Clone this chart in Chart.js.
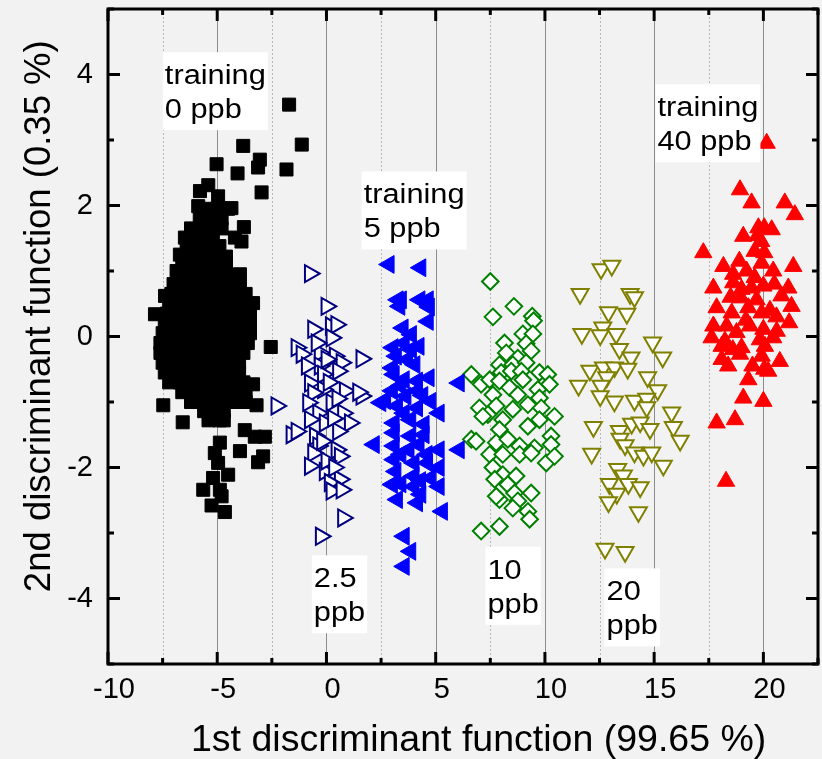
<!DOCTYPE html>
<html>
<head>
<meta charset="utf-8">
<script src="https://cdn.jsdelivr.net/npm/chart.js@4.4.1/dist/chart.umd.min.js"></script>
<style>
html,body{margin:0;padding:0;background:#f2f2f2;}
canvas{display:block;}
</style>
</head>
<body>
<canvas id="c" width="822" height="759"></canvas>
<script>
// ---- axes / ticks ----
const xTicks = [-10, -5, 0, 5, 10, 15, 20];
const xMinorTicks = [-7.5, -2.5, 2.5, 7.5, 12.5, 17.5, 22.5];
const yTicks = [-4, -2, 0, 2, 4];
const yMinorTicks = [-5, -3, -1, 1, 3, 5];
const xTitle = '1st discriminant function (99.65 %)';
const yTitle = '2nd discriminant function (0.35 %)';

// ---- annotation labels ----
const annotX = [-7.49, 1.61, 15.06, -0.67, 7.28, 12.73];
const annotY = [4.34, 2.52, 3.85, -3.34, -3.21, -3.54];
const annotLine1 = ['training', 'training', 'training', '2.5', '10', '20'];
const annotLine2 = ['0 ppb', '5 ppb', '40 ppb', 'ppb', 'ppb', 'ppb'];

// ---- series: training 0 ppb (black squares) ----
const ppb0 = [
[-1.71,3.54],[-1.13,2.93],[-3.81,2.91],[-3.05,2.70],[-3.13,2.58],[-4.07,2.49],[-1.83,2.55],[-5.03,2.63],
[-2.97,2.20],[-5.41,2.31],[-5.79,2.22],[-4.96,2.14],[-5.87,1.99],[-4.35,1.96],[-3.78,1.67],[-4.19,1.51],
[-3.89,1.45],[-6.48,1.51],[-6.71,1.25],[-6.86,1.00],[-3.96,0.95],[-3.96,0.77],[-3.36,0.51],[-7.39,0.62],
[-7.85,0.34],[-2.55,-0.16],[-3.36,-0.73],[-7.47,-1.05],[-6.58,-1.31],[-3.20,-1.05],[-3.74,-1.43],[-2.82,-1.53],
[-3.28,-1.53],[-3.96,-1.75],[-2.90,-1.83],[-3.13,-1.92],[-4.88,-1.62],[-5.11,-1.78],[-4.96,-1.93],[-4.50,-2.11],
[-5.19,-2.16],[-5.64,-2.34],[-4.88,-2.34],[-4.80,-2.44],[-5.26,-2.58],[-4.65,-2.68],
[-5.5,1.95],[-5.0,1.95],[-4.5,1.95],
[-5.8,1.80],[-5.3,1.80],[-4.8,1.80],
[-6.2,1.65],[-5.7,1.65],[-5.2,1.65],[-4.8,1.65],
[-6.2,1.50],[-5.7,1.50],[-5.2,1.50],
[-6.4,1.38],[-5.9,1.38],[-5.4,1.38],[-4.9,1.38],
[-6.5,1.22],[-6.0,1.22],[-5.5,1.22],[-5.0,1.22],[-4.6,1.22],
[-6.6,1.08],[-6.1,1.08],[-5.6,1.08],[-5.1,1.08],[-4.6,1.08],
[-6.8,0.94],[-6.3,0.94],[-5.8,0.94],[-5.3,0.94],[-4.8,0.94],[-4.4,0.94],
[-7.0,0.80],[-6.5,0.80],[-6.0,0.80],[-5.5,0.80],[-5.0,0.80],[-4.5,0.80],[-4.1,0.80],
[-7.1,0.65],[-6.6,0.65],[-6.1,0.65],[-5.6,0.65],[-5.1,0.65],[-4.6,0.65],[-4.1,0.65],[-3.7,0.65],
[-7.2,0.50],[-6.7,0.50],[-6.2,0.50],[-5.7,0.50],[-5.2,0.50],[-4.7,0.50],[-4.2,0.50],[-3.7,0.50],
[-7.3,0.35],[-6.8,0.35],[-6.3,0.35],[-5.8,0.35],[-5.3,0.35],[-4.8,0.35],[-4.3,0.35],[-3.8,0.35],[-3.5,0.35],
[-7.4,0.20],[-6.9,0.20],[-6.4,0.20],[-5.9,0.20],[-5.4,0.20],[-4.9,0.20],[-4.4,0.20],[-3.9,0.20],[-3.5,0.20],
[-7.5,0.05],[-7.0,0.05],[-6.5,0.05],[-6.0,0.05],[-5.5,0.05],[-5.0,0.05],[-4.5,0.05],[-4.0,0.05],[-3.5,0.05],
[-7.6,-0.10],[-7.1,-0.10],[-6.6,-0.10],[-6.1,-0.10],[-5.6,-0.10],[-5.1,-0.10],[-4.6,-0.10],[-4.1,-0.10],[-3.6,-0.10],
[-7.6,-0.25],[-7.1,-0.25],[-6.6,-0.25],[-6.1,-0.25],[-5.6,-0.25],[-5.1,-0.25],[-4.6,-0.25],[-4.1,-0.25],[-3.8,-0.25],
[-7.5,-0.40],[-7.0,-0.40],[-6.5,-0.40],[-6.0,-0.40],[-5.5,-0.40],[-5.0,-0.40],[-4.5,-0.40],[-4.0,-0.40],
[-7.4,-0.55],[-6.9,-0.55],[-6.4,-0.55],[-5.9,-0.55],[-5.4,-0.55],[-4.9,-0.55],[-4.4,-0.55],[-4.0,-0.55],
[-7.2,-0.70],[-6.7,-0.70],[-6.2,-0.70],[-5.7,-0.70],[-5.2,-0.70],[-4.7,-0.70],[-4.2,-0.70],[-3.8,-0.70],
[-6.6,-0.85],[-6.1,-0.85],[-5.6,-0.85],[-5.1,-0.85],[-4.6,-0.85],[-4.1,-0.85],[-3.7,-0.85],
[-6.2,-1.00],[-5.7,-1.00],[-5.2,-1.00],[-4.7,-1.00],[-4.2,-1.00],[-3.7,-1.00],
[-5.6,-1.14],[-5.1,-1.14],[-4.7,-1.14],
[-5.4,-1.28],[-4.9,-1.28],[-4.7,-1.28]
];

// ---- series: 2.5 ppb (navy open right triangles) ----
const ppb2_5 = [
[-0.76,0.96],[0.00,0.46],[-0.61,0.11],[0.20,0.16],[0.45,0.18],[0.23,-0.02],[-1.37,-0.17],[-1.14,-0.27],
[-0.31,-0.25],[0.38,-0.30],[1.60,-0.34],[0.69,-0.40],[-0.31,-0.45],[0.53,-0.53],[-0.16,-0.58],[-0.76,-0.71],
[0.84,-0.83],[-0.16,-0.81],[-0.61,-0.86],[1.60,-0.91],[-2.29,-1.06],[-0.84,-1.01],[0.23,-1.01],[0.76,-1.17],
[-0.38,-1.17],[1.07,-1.32],[-0.08,-1.32],[-0.76,-1.27],[-1.60,-1.50],[-1.37,-1.45],[0.53,-1.45],[-0.53,-1.52],
[-0.38,-1.67],[0.46,-1.73],[-0.61,-1.78],[0.61,-1.83],[-0.76,-1.98],[-0.08,-2.06],[0.61,-2.18],[0.15,-2.23],
[0.23,-2.36],[0.69,-2.34],[0.76,-2.77],[-0.26,-3.05],
[-0.45,-0.10],[0.10,-0.70],[0.30,-1.25],[0.00,-1.90],[0.35,-2.00],[0.00,-0.35],[-0.90,-0.45],[0.50,-0.95],
[-0.20,-1.60],[1.45,-0.85]
];

// ---- series: training 5 ppb (blue filled left triangles) ----
const ppb5 = [
[2.86,1.10],[4.31,1.05],[3.42,0.56],[3.27,0.56],[3.35,0.46],[4.27,0.56],[4.65,0.56],[4.70,0.45],
[4.65,0.23],[3.50,0.13],[3.88,0.03],[3.04,-0.17],[3.55,-0.10],[3.88,-0.20],[4.23,-0.15],[3.19,-0.30],
[3.70,-0.35],[4.04,-0.43],[3.01,-0.48],[4.69,-0.63],[3.09,-0.58],[3.55,-0.66],[4.16,-0.68],[6.07,-0.71],
[2.48,-1.01],[2.70,-0.98],[3.01,-0.83],[3.40,-0.75],[3.63,-0.91],[4.16,-0.83],[4.40,-0.90],[4.77,-0.99],
[5.15,-1.17],[3.24,-1.06],[3.55,-1.17],[4.16,-1.09],[3.09,-1.32],[3.85,-1.27],[4.46,-1.34],[2.18,-1.65],
[3.09,-1.47],[3.85,-1.52],[4.46,-1.50],[4.23,-1.65],[3.09,-1.67],[3.77,-1.73],[3.40,-1.80],[4.60,-1.80],
[5.15,-1.73],[6.07,-1.73],[3.09,-1.88],[4.00,-1.93],[4.62,-1.93],[5.15,-2.00],[3.17,-2.06],[4.00,-2.13],
[4.30,-2.20],[4.77,-2.16],[3.01,-2.26],[3.40,-2.25],[4.00,-2.29],[5.15,-2.29],[4.31,-2.41],[3.24,-2.49],
[4.16,-2.54],[5.30,-2.67],[3.55,-3.05],[3.85,-3.28],[3.55,-3.51]
];

// ---- series: 10 ppb (green open diamonds) ----
const ppb10 = [
[7.50,0.84],[8.58,0.46],[7.62,0.30],[9.42,0.31],[9.48,0.24],[8.99,0.04],[9.45,0.04],[8.15,-0.10],
[9.14,-0.11],[8.23,-0.25],[9.37,-0.22],[8.76,-0.33],[7.92,-0.43],[8.53,-0.43],[9.14,-0.40],[6.63,-0.58],
[7.08,-0.73],[7.47,-0.66],[8.00,-0.55],[8.46,-0.53],[8.92,-0.53],[9.75,-0.55],[10.13,-0.58],[7.92,-0.68],
[8.38,-0.78],[8.99,-0.66],[10.21,-0.73],[9.68,-0.81],[8.76,-0.89],[9.75,-0.94],[7.62,-0.89],[7.00,-1.09],
[7.77,-1.06],[8.53,-1.11],[9.22,-1.04],[9.83,-1.09],[10.44,-1.22],[7.39,-1.19],[7.16,-1.22],[8.07,-1.27],
[9.75,-1.27],[9.22,-1.37],[7.92,-1.42],[6.63,-1.57],[6.85,-1.60],[7.77,-1.62],[8.30,-1.57],[8.84,-1.67],
[9.52,-1.70],[10.28,-1.52],[10.28,-1.65],[7.47,-1.80],[8.07,-1.80],[8.84,-1.80],[9.37,-1.78],[10.06,-1.93],
[10.44,-1.83],[7.62,-2.00],[8.07,-2.11],[8.68,-2.13],[7.70,-2.18],[8.30,-2.26],[8.61,-2.39],[9.37,-2.39],
[7.92,-2.49],[7.77,-2.44],[8.76,-2.51],[8.53,-2.62],[9.22,-2.67],[9.30,-2.79],[7.92,-2.90],[7.08,-2.97]
];

// ---- series: 20 ppb (olive open down triangles) ----
const ppb20 = [
[12.57,1.03],[13.06,1.08],[11.61,0.65],[13.90,0.65],[14.10,0.60],[12.91,0.37],[13.75,0.35],[11.69,0.04],
[12.65,0.14],[12.53,0.02],[13.26,0.04],[13.41,-0.19],[13.94,-0.32],[14.93,-0.09],[15.39,-0.32],[12.06,-0.52],
[12.68,-0.47],[13.18,-0.47],[13.79,-0.49],[11.54,-0.75],[12.83,-0.62],[12.57,-0.75],[14.70,-0.62],[12.53,-0.91],
[13.18,-0.99],[15.16,-0.82],[14.10,-0.98],[14.66,-0.95],[14.66,-1.08],[15.80,-1.16],[12.22,-1.38],[13.41,-1.44],
[13.97,-1.33],[14.36,-1.31],[14.81,-1.41],[15.88,-1.38],[16.19,-1.59],[13.44,-1.56],[13.67,-1.66],[14.10,-1.77],
[14.51,-1.82],[14.89,-1.77],[12.14,-1.79],[15.42,-1.97],[13.33,-2.02],[13.59,-2.12],[12.95,-2.25],[13.82,-2.25],
[14.36,-2.30],[13.29,-2.40],[12.91,-2.53],[14.28,-2.68],[12.75,-3.24],[13.67,-3.29]
];

// ---- series: training 40 ppb (red filled up triangles) ----
const ppb40 = [
[20.15,2.95],[18.93,2.24],[19.46,2.04],[20.98,2.04],[21.44,1.86],[19.08,1.53],[19.77,1.66],[20.04,1.66],
[20.38,1.63],[19.73,1.54],[17.25,1.28],[20.04,1.28],[18.17,1.07],[21.37,1.07],[18.62,0.95],[19.23,1.00],
[19.92,1.12],[20.45,1.00],[17.71,0.74],[20.83,0.62],[21.14,0.74],[18.62,0.82],[19.00,0.72],[19.46,0.74],
[20.00,0.77],[18.97,0.59],[19.69,0.56],[21.29,0.46],[17.86,0.44],[18.55,0.36],[19.31,0.44],[19.92,0.36],
[21.18,0.21],[17.71,0.16],[18.32,0.16],[19.38,0.16],[20.00,0.11],[20.61,0.08],[17.63,-0.02],[18.24,-0.07],
[18.77,0.06],[19.84,-0.05],[20.45,-0.02],[18.09,-0.15],[19.00,-0.17],[20.07,-0.15],[18.09,-0.35],[18.93,-0.27],
[19.92,-0.30],[20.75,-0.38],[18.39,-0.45],[20.04,-0.50],[20.22,-0.53],[19.31,-0.66],[19.08,-0.94],[20.00,-0.99],
[17.86,-1.32],[18.70,-1.27],[18.29,-2.21],
[18.50,0.60],[19.60,0.90],[19.20,0.25],[20.30,0.40],[18.60,-0.20],[19.50,-0.45],[20.50,0.80],[19.60,1.30],
[18.90,1.15],[19.90,1.45],[20.60,0.30]
];

const FONT = '"Liberation Sans", Arial, Helvetica, sans-serif';
const toXY = arr => arr.map(p => ({x: p[0], y: p[1]}));

const bgPlugin = {
  id: 'bg',
  beforeDraw(chart) {
    const c = chart.ctx;
    c.save();
    c.fillStyle = '#f2f2f2';
    c.fillRect(0, 0, chart.width, chart.height);
    c.restore();
  }
};

const gridPlugin = {
  id: 'vgrid',
  beforeDatasetsDraw(chart) {
    const {ctx, chartArea: a, scales: {x}} = chart;
    ctx.save();
    ctx.lineWidth = 1;
    ctx.strokeStyle = '#8c8c8c';
    xTicks.forEach(v => {
      const p = Math.round(x.getPixelForValue(v)) + 0.5;
      if (p <= a.left + 2 || p >= a.right - 2) return;
      ctx.beginPath(); ctx.moveTo(p, a.top); ctx.lineTo(p, a.bottom); ctx.stroke();
    });
    ctx.strokeStyle = '#b8b8b8';
    ctx.setLineDash([2, 2]);
    xMinorTicks.forEach(v => {
      const p = Math.round(x.getPixelForValue(v)) + 0.5;
      if (p <= a.left + 2 || p >= a.right - 2) return;
      ctx.beginPath(); ctx.moveTo(p, a.top); ctx.lineTo(p, a.bottom); ctx.stroke();
    });
    ctx.restore();
  }
};

const annotPlugin = {
  id: 'annot',
  afterDatasetsDraw(chart) {
    const {ctx, scales: {x, y}} = chart;
    const sx = 1.14;
    ctx.save();
    ctx.font = '27px ' + FONT;
    ctx.textBaseline = 'alphabetic';
    ctx.textAlign = 'left';
    for (let i = 0; i < annotX.length; i++) {
      const left = x.getPixelForValue(annotX[i]);
      const top = y.getPixelForValue(annotY[i]);
      const w = Math.max(ctx.measureText(annotLine1[i]).width, ctx.measureText(annotLine2[i]).width) * sx + 4;
      ctx.fillStyle = '#ffffff';
      ctx.fillRect(left, top, w, 78);
      ctx.fillStyle = '#000000';
      [[annotLine1[i], 32], [annotLine2[i], 66]].forEach(([t, dy]) => {
        ctx.save();
        ctx.translate(left + 2, top + dy);
        ctx.scale(sx, 1);
        ctx.fillText(t, 0, 0);
        ctx.restore();
      });
    }
    ctx.restore();
  }
};

const framePlugin = {
  id: 'frame',
  afterDraw(chart) {
    const {ctx, chartArea: a, scales: {x, y}} = chart;
    ctx.save();
    ctx.strokeStyle = '#000';
    ctx.lineWidth = 3;
    ctx.lineCap = 'butt';
    const seg = (x1, y1, x2, y2) => { ctx.beginPath(); ctx.moveTo(x1, y1); ctx.lineTo(x2, y2); ctx.stroke(); };
    xTicks.forEach(v => { const p = x.getPixelForValue(v); seg(p, a.bottom, p, a.bottom - 12); seg(p, a.top, p, a.top + 12); });
    xMinorTicks.forEach(v => { const p = x.getPixelForValue(v); seg(p, a.bottom, p, a.bottom - 6); seg(p, a.top, p, a.top + 6); });
    yTicks.forEach(v => { const p = y.getPixelForValue(v); seg(a.left, p, a.left + 12, p); seg(a.right, p, a.right - 12, p); });
    yMinorTicks.forEach(v => { const p = y.getPixelForValue(v); seg(a.left, p, a.left + 6, p); seg(a.right, p, a.right - 6, p); });
    ctx.lineWidth = 3;
    ctx.strokeRect(a.left, a.top, a.right - a.left, a.bottom - a.top);
    ctx.restore();
  }
};

const noPad = s => { s.paddingTop = 0; s.paddingBottom = 0; s.paddingLeft = 0; s.paddingRight = 0; };

new Chart(document.getElementById('c'), {
  type: 'scatter',
  data: {
    datasets: [
      {label: 'training 0 ppb', data: toXY(ppb0), pointStyle: 'rect', pointRadius: 9.2,
       backgroundColor: '#000000', borderColor: '#000000', pointBorderWidth: 1},
      {label: '2.5 ppb', data: toXY(ppb2_5), pointStyle: 'triangle', rotation: 90, pointRadius: 9.8,
       backgroundColor: '#ffffff', borderColor: '#000080', pointBorderWidth: 2},
      {label: 'training 5 ppb', data: toXY(ppb5), pointStyle: 'triangle', rotation: 270, pointRadius: 10.3,
       backgroundColor: '#0000ff', borderColor: '#0000ff', pointBorderWidth: 1},
      {label: '10 ppb', data: toXY(ppb10), pointStyle: 'rectRot', pointRadius: 8.3,
       backgroundColor: '#ffffff', borderColor: '#008000', pointBorderWidth: 2},
      {label: '20 ppb', data: toXY(ppb20), pointStyle: 'triangle', rotation: 180, pointRadius: 9.8,
       backgroundColor: '#ffffff', borderColor: '#808000', pointBorderWidth: 2},
      {label: 'training 40 ppb', data: toXY(ppb40), pointStyle: 'triangle', pointRadius: 10,
       backgroundColor: '#ff0000', borderColor: '#ff0000', pointBorderWidth: 1}
    ]
  },
  options: {
    responsive: false,
    animation: false,
    devicePixelRatio: 1,
    layout: {autoPadding: false, padding: {left: 0, top: 9, right: 4, bottom: 0}},
    plugins: {legend: {display: false}, tooltip: {enabled: false}},
    scales: {
      x: {
        type: 'linear', min: -10, max: 22.5,
        afterBuildTicks: s => { s.ticks = xTicks.map(v => ({value: v})); },
        afterFit: s => { s.height = 95; noPad(s); },
        grid: {display: false, drawTicks: false},
        border: {display: false},
        ticks: {autoSkip: false, maxRotation: 0, padding: 9, labelOffset: 6, color: '#000',
                font: {family: FONT, size: 29}},
        title: {display: true, text: '   ' + xTitle, color: '#000', padding: {top: 0, bottom: 0},
                font: {family: FONT, size: 37.5, lineHeight: 1}}
      },
      y: {
        type: 'linear', min: -5, max: 5,
        afterBuildTicks: s => { s.ticks = yTicks.map(v => ({value: v})); },
        afterFit: s => { s.width = 108; noPad(s); },
        grid: {display: false, drawTicks: false},
        border: {display: false},
        ticks: {autoSkip: false, padding: 15, color: '#000', font: {family: FONT, size: 29}},
        title: {display: true, text: '    ' + yTitle, color: '#000', padding: {top: 22, bottom: 0},
                font: {family: FONT, size: 36.5, lineHeight: 1}}
      }
    }
  },
  plugins: [bgPlugin, gridPlugin, annotPlugin, framePlugin]
});
</script>
</body>
</html>
